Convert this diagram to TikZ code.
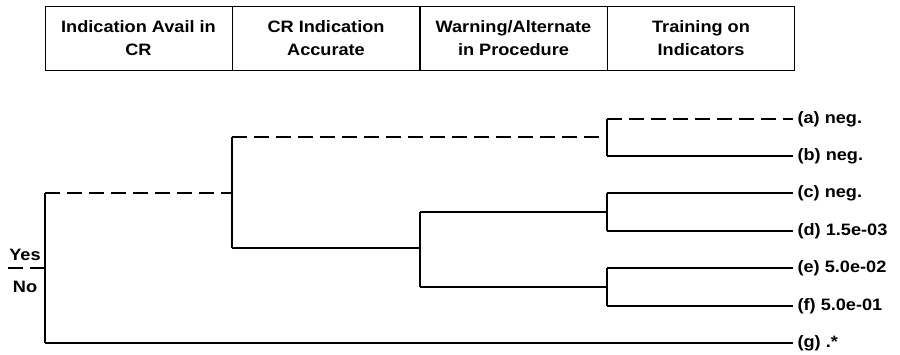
\documentclass[tikz,border=0pt]{standalone}
\usepackage{fontspec}
\setmainfont{Liberation Sans}[FakeStretch=1.1]

\begin{document}
\begin{tikzpicture}[x=1pt, y=-1pt, line width=1.2pt,
  every node/.style={font=\bfseries\fontsize{16.5}{23}\selectfont},
  hdr/.style={draw, line width=1pt, minimum width=187pt, minimum height=64pt, align=center, inner sep=0pt},
  leaf/.style={anchor=west, inner xsep=4pt, inner ysep=0pt},
  nobr/.style={dash pattern=on 15pt off 7pt}]
  \useasboundingbox (0,0) rectangle (900,354);
  % header
  \node[hdr] (avail) at (138.5, 38) {Indication Avail in\\CR};
  \node[hdr] (accur) at (326, 38)   {CR Indication\\Accurate};
  \node[hdr] (warn)  at (513.5, 38) {Warning/Alternate\\in Procedure};
  \node[hdr] (train) at (701, 38)   {Training on\\Indicators};
  % yes / no
  \node[anchor=base, inner sep=0pt] (yes) at (25, 260) {Yes};
  \node[anchor=base, inner sep=0pt] (no)  at (25, 292) {No};
  % outcomes
  \node[leaf] (a) at (793, 119) {(a) neg.};
  \node[leaf] (b) at (793, 156) {(b) neg.};
  \node[leaf] (c) at (793, 193) {(c) neg.};
  \node[leaf] (d) at (793, 231) {(d) 1.5e-03};
  \node[leaf] (e) at (793, 268) {(e) 5.0e-02};
  \node[leaf] (f) at (793, 306) {(f) 5.0e-01};
  \node[leaf] (g) at (793, 343) {(g) .*};
  % branch points
  \coordinate (y0) at (8, 268);
  \coordinate (r)  at (45, 268);
  \coordinate (r1) at (45, 193);
  \coordinate (r2) at (45, 343);
  \coordinate (n1a) at (232, 193);
  \coordinate (n1u) at (232, 137);
  \coordinate (n1d) at (232, 248);
  \coordinate (n2)  at (607, 137);
  \coordinate (n2u) at (607, 119);
  \coordinate (n2d) at (607, 156);
  \coordinate (n3)  at (420, 248);
  \coordinate (n3u) at (420, 212);
  \coordinate (n3d) at (420, 287);
  \coordinate (n4)  at (607, 212);
  \coordinate (n4u) at (607, 193);
  \coordinate (n4d) at (607, 231);
  \coordinate (n5)  at (607, 287);
  \coordinate (n5u) at (607, 268);
  \coordinate (n5d) at (607, 306);
  % tree
  \draw[nobr] (y0) -- (r);
  \draw (r1) -- (r2);
  \draw[nobr] (r1) -- (n1a);
  \draw (r2) -- (g.west);
  \draw (n1u) -- (n1d);
  \draw[nobr] (n1u) -- (n2);
  \draw (n1d) -- (n3);
  \draw (n2u) -- (n2d);
  \draw[nobr] (n2u) -- (a.west);
  \draw (n2d) -- (b.west);
  \draw (n3u) -- (n3d);
  \draw (n3u) -- (n4);
  \draw (n3d) -- (n5);
  \draw (n4u) -- (n4d);
  \draw (n4u) -- (c.west);
  \draw (n4d) -- (d.west);
  \draw (n5u) -- (n5d);
  \draw (n5u) -- (e.west);
  \draw (n5d) -- (f.west);
\end{tikzpicture}
\end{document}
